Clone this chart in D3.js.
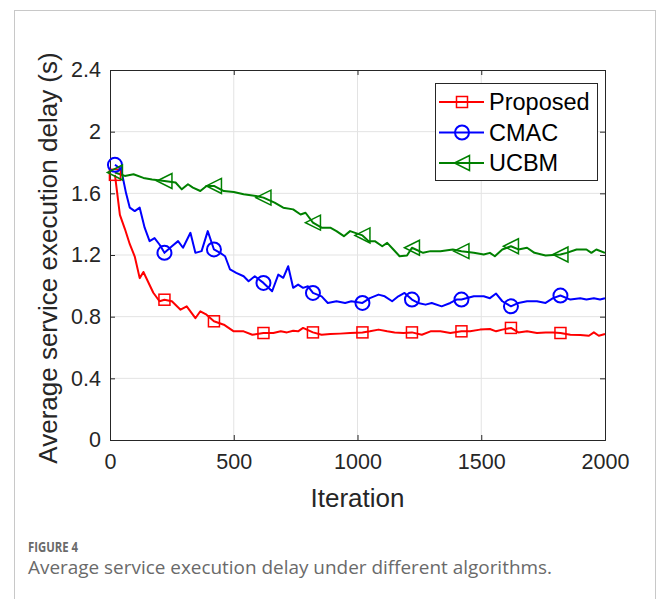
<!DOCTYPE html>
<html><head><meta charset="utf-8">
<script src="https://cdn.jsdelivr.net/npm/d3@7"></script>
<style>
html,body{margin:0;padding:0;background:#fff;}
svg{display:block;}
</style></head>
<body>
<svg id="chart" width="658" height="599"></svg>
<script>
// ---- Data ----
const xTicks = [0, 500, 1000, 1500, 2000];
const yTicks = [0, 0.4, 0.8, 1.2, 1.6, 2, 2.4];
const yTickLabels = ["0", "0.4", "0.8", "1.2", "1.6", "2", "2.4"];
const markerIters = [20, 220, 420, 620, 820, 1020, 1220, 1420, 1620, 1820];

const proposedIter = [20,40,60,80,100,120,135,175,200,220,250,285,310,345,365,390,420,460,500,540,575,620,660,690,715,740,760,780,820,855,890,930,970,1020,1050,1085,1120,1150,1185,1220,1260,1295,1335,1375,1420,1455,1495,1535,1560,1585,1620,1650,1685,1725,1760,1790,1820,1860,1900,1935,1955,1975,2000];
const proposedVal = [1.72,1.46,1.37,1.27,1.19,1.05,1.09,0.955,0.90,0.91,0.90,0.845,0.867,0.79,0.835,0.813,0.77,0.748,0.705,0.705,0.683,0.694,0.694,0.705,0.698,0.709,0.705,0.727,0.698,0.683,0.687,0.69,0.694,0.698,0.705,0.716,0.705,0.698,0.694,0.698,0.683,0.705,0.705,0.694,0.705,0.705,0.716,0.72,0.705,0.716,0.727,0.698,0.705,0.694,0.698,0.698,0.694,0.683,0.681,0.676,0.698,0.676,0.687];

const cmacIter = [20,45,65,80,100,120,140,160,180,200,220,250,275,295,325,345,370,395,420,445,465,485,510,540,560,585,620,655,680,700,720,740,760,780,800,820,855,880,915,950,975,1020,1050,1085,1110,1140,1165,1190,1220,1245,1275,1300,1340,1375,1400,1420,1470,1510,1535,1560,1585,1620,1650,1685,1725,1760,1790,1820,1860,1900,1925,1955,1980,2000];
const cmacVal = [1.785,1.756,1.60,1.507,1.485,1.507,1.377,1.29,1.31,1.268,1.214,1.257,1.29,1.247,1.344,1.214,1.225,1.355,1.236,1.214,1.192,1.106,1.084,1.062,1.03,1.062,1.019,0.965,1.073,1.052,1.127,0.987,1.008,0.987,0.997,0.954,0.932,0.889,0.90,0.889,0.90,0.889,0.92,0.943,0.932,0.90,0.932,0.954,0.911,0.889,0.878,0.889,0.867,0.889,0.911,0.911,0.932,0.932,0.92,0.95,0.90,0.867,0.889,0.90,0.90,0.889,0.92,0.937,0.911,0.92,0.911,0.92,0.911,0.92];

const ucbmIter = [20,60,95,135,170,220,265,290,315,335,365,390,420,460,500,540,590,620,665,700,740,770,790,820,855,890,915,945,970,1020,1045,1070,1100,1120,1145,1170,1200,1220,1265,1295,1335,1385,1420,1470,1510,1535,1555,1585,1620,1650,1685,1715,1760,1820,1845,1885,1925,1945,1965,2000];
const ucbmVal = [1.735,1.713,1.724,1.70,1.69,1.68,1.67,1.626,1.659,1.637,1.615,1.648,1.648,1.615,1.609,1.594,1.583,1.572,1.54,1.507,1.496,1.463,1.474,1.41,1.377,1.377,1.355,1.322,1.355,1.327,1.29,1.29,1.257,1.279,1.236,1.192,1.197,1.247,1.214,1.225,1.225,1.236,1.225,1.214,1.203,1.214,1.192,1.236,1.257,1.236,1.247,1.214,1.197,1.203,1.214,1.236,1.236,1.214,1.236,1.214];

const seriesNames = ["Proposed", "CMAC", "UCBM"];
const seriesColors = ["#ff0000", "#0000ff", "#008000"];
const seriesMarkers = ["square", "circle", "triangle"];

const series = [
  {name: seriesNames[0], color: seriesColors[0], marker: seriesMarkers[0], x: proposedIter, y: proposedVal},
  {name: seriesNames[1], color: seriesColors[1], marker: seriesMarkers[1], x: cmacIter, y: cmacVal},
  {name: seriesNames[2], color: seriesColors[2], marker: seriesMarkers[2], x: ucbmIter, y: ucbmVal}
];

// ---- Layout ----
const svg = d3.select("#chart");
const L = 110, R = 605, T = 70, B = 440;

// outer frame
svg.append("rect").attr("x", 14.5).attr("y", 10.5).attr("width", 641).attr("height", 620)
  .attr("fill", "none").attr("stroke", "#c8c8c8").attr("stroke-width", 1);

const x = d3.scaleLinear().domain([0, 2000]).range([L, R]);
const y = d3.scaleLinear().domain([0, 2.4]).range([B, T]);

const axisColor = "#262626";
const font = "'Liberation Sans', Arial, Helvetica, sans-serif";

// grid
const grid = svg.append("g");
grid.selectAll("line.gx").data(xTicks.slice(1, -1)).enter().append("line")
  .attr("x1", d => x(d)).attr("x2", d => x(d)).attr("y1", T).attr("y2", B)
  .attr("stroke", "#e3e3e3").attr("stroke-width", 1);
grid.selectAll("line.gy").data(yTicks.slice(1, -1)).enter().append("line")
  .attr("x1", L).attr("x2", R).attr("y1", d => y(d)).attr("y2", d => y(d))
  .attr("stroke", "#e3e3e3").attr("stroke-width", 1);

// axes
const xAxis = d3.axisBottom(x).tickValues(xTicks).tickSize(-5).tickPadding(14).tickFormat(d3.format("d"));
const gx = svg.append("g").attr("transform", `translate(0,${B})`).call(xAxis);
const yAxis = d3.axisLeft(y).tickValues(yTicks).tickSize(-5).tickPadding(9).tickFormat((d, i) => yTickLabels[i]);
const gy = svg.append("g").attr("transform", `translate(${L},0)`).call(yAxis);
const xAxisTop = d3.axisTop(x).tickValues(xTicks).tickSize(-5).tickFormat("");
svg.append("g").attr("transform", `translate(0,${T})`).call(xAxisTop);
const yAxisRight = d3.axisRight(y).tickValues(yTicks).tickSize(-5).tickFormat("");
svg.append("g").attr("transform", `translate(${R},0)`).call(yAxisRight);

svg.selectAll(".domain").attr("stroke", axisColor).attr("stroke-width", 1);
svg.selectAll(".tick line").attr("stroke", axisColor);
svg.selectAll(".tick text").attr("fill", "#262626").attr("font-family", font).attr("font-size", "21.5px");
gx.selectAll(".tick text").attr("dy", "0.71em");

// axis labels
svg.append("text").attr("x", (L + R) / 2).attr("y", 507).attr("text-anchor", "middle")
  .attr("font-family", font).attr("font-size", "26px").attr("fill", "#262626").text("Iteration");
svg.append("text").attr("transform", `translate(57,258) rotate(-90)`).attr("text-anchor", "middle")
  .attr("font-family", font).attr("font-size", "26px").attr("fill", "#262626")
  .text("Average service execution delay (s)");

function drawMarker(g, type, cx, cy, color) {
  if (type === "square") {
    g.append("rect").attr("x", cx - 5.5).attr("y", cy - 5.5).attr("width", 11).attr("height", 11)
      .attr("fill", "none").attr("stroke", color).attr("stroke-width", 1.5);
  } else if (type === "circle") {
    g.append("circle").attr("cx", cx).attr("cy", cy).attr("r", 7)
      .attr("fill", "none").attr("stroke", color).attr("stroke-width", 2);
  } else {
    const s = 7.5;
    g.append("path").attr("d", `M${cx - s},${cy} L${cx + s},${cy - s} L${cx + s},${cy + s} Z`)
      .attr("fill", "none").attr("stroke", color).attr("stroke-width", 1.5);
  }
}

const line = d3.line().x(d => x(d[0])).y(d => y(d[1]));
series.forEach(s => {
  const pts = s.x.map((v, i) => [v, s.y[i]]);
  svg.append("path").datum(pts).attr("d", line).attr("fill", "none")
    .attr("stroke", s.color).attr("stroke-width", 2).attr("stroke-linejoin", "round");
});
series.forEach(s => {
  const g = svg.append("g");
  s.x.forEach((v, i) => {
    if (markerIters.includes(v)) drawMarker(g, s.marker, x(v), y(s.y[i]), s.color);
  });
});

// legend
const lg = svg.append("g");
lg.append("rect").attr("x", 435.5).attr("y", 83.5).attr("width", 162).attr("height", 97)
  .attr("fill", "#fff").attr("stroke", axisColor).attr("stroke-width", 1);
series.forEach((s, i) => {
  const cy = 102 + i * 30.5;
  lg.append("line").attr("x1", 439).attr("x2", 484).attr("y1", cy).attr("y2", cy)
    .attr("stroke", s.color).attr("stroke-width", 2);
  drawMarker(lg, s.marker, 462, cy, s.color);
  lg.append("text").attr("x", 489).attr("y", cy).attr("dy", "0.36em")
    .attr("font-family", font).attr("font-size", "23.5px").attr("fill", "#000").text(s.name);
});

// caption
svg.append("text").attr("x", 28).attr("y", 552).attr("font-family", "'Open Sans', Lato, sans-serif")
  .attr("font-size", "13.5px").attr("font-weight", 700).attr("fill", "#6a6a6a")
  .attr("textLength", 50).attr("lengthAdjust", "spacingAndGlyphs").text("FIGURE 4");
svg.append("text").attr("x", 28).attr("y", 574).attr("font-family", "'Open Sans', Lato, sans-serif")
  .attr("font-size", "18px").attr("fill", "#6a6a6a")
  .attr("textLength", 524).attr("lengthAdjust", "spacingAndGlyphs")
  .text("Average service execution delay under different algorithms.");
</script>
</body></html>
